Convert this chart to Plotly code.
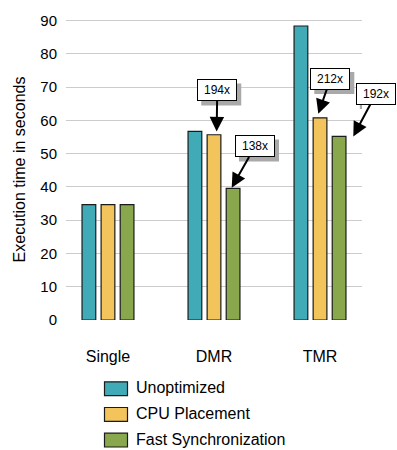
import plotly.graph_objects as go

# Benchmark configurations and series
configs = ["Single", "DMR", "TMR"]
series_names = ["Unoptimized", "CPU Placement", "Fast Synchronization"]
unoptimized = [34.7, 56.7, 88.4]
cpu_placement = [34.7, 55.7, 60.8]
fast_sync = [34.7, 39.6, 55.2]
series_colors = ["#40AAB7", "#F2C45B", "#89A74C"]

# Speedup callouts: label, arrow tip (category index, seconds), box offset (px)
speedup_labels = ["194x", "138x", "212x", "192x"]
tip_x = [1.025, 1.167, 1.984, 2.314]
tip_y = [56.7, 39.8, 62.0, 55.2]
box_dx = [0.6, 23.3, 12.0, 22.5]
box_dy = [-41.0, -41.2, -34.7, -42.5]

FONT = "Liberation Sans, Arial, Helvetica, sans-serif"
W, H = 397, 450
ML, MR, MT, MB = 66, 35, 16, 129.5

fig = go.Figure()
for name, vals, col in zip(series_names, [unoptimized, cpu_placement, fast_sync], series_colors):
    fig.add_trace(go.Bar(
        x=configs, y=vals, name=name,
        marker=dict(color=col, line=dict(color="#1b1b1b", width=1.2)),
        showlegend=False,
    ))

shapes = []
annotations = []

# Callout boxes with drop shadows and arrows
BW, BH, SH = 40, 22, 4
for lab, tx, ty, dx, dy in zip(speedup_labels, tip_x, tip_y, box_dx, box_dy):
    shapes.append(dict(
        type="rect", xref="x", yref="y", xsizemode="pixel", ysizemode="pixel",
        xanchor=tx, yanchor=ty,
        x0=dx - BW / 2 + SH, x1=dx + BW / 2 + SH,
        y0=-(dy - BH / 2 + SH), y1=-(dy + BH / 2 + SH),
        fillcolor="#a9a9a9", line=dict(width=0), layer="above",
    ))
    annotations.append(dict(
        x=tx, y=ty, xref="x", yref="y", ax=dx, ay=dy,
        text=lab, showarrow=True, arrowhead=2, arrowsize=1.45, arrowwidth=2,
        arrowcolor="#000000", bgcolor="#ffffff", bordercolor="#000000",
        borderwidth=1, borderpad=0, width=BW - 2, height=BH - 2,
        font=dict(family=FONT, size=12, color="#000000"),
    ))

# Legend drawn as swatches + labels
pw = W - ML - MR
ph = H - MT - MB

def px_x(p):
    return (p - ML) / pw

def px_y(p):
    return 1 - (p - MT) / ph

row_centers = [390, 416, 442]
for name, col, yc in zip(series_names, series_colors, row_centers):
    shapes.append(dict(
        type="rect", xref="paper", yref="paper",
        x0=px_x(104.5), x1=px_x(127.5), y0=px_y(yc - 7), y1=px_y(yc + 7),
        fillcolor=col, line=dict(color="#1b1b1b", width=1.2),
    ))
    annotations.append(dict(
        x=px_x(134), y=px_y(yc - 1), xref="paper", yref="paper",
        xanchor="left", yanchor="middle", showarrow=False, text=name,
        font=dict(family=FONT, size=16, color="#000000"),
    ))

fig.update_layout(
    width=W, height=H,
    margin=dict(l=ML, r=MR, t=MT, b=MB),
    paper_bgcolor="white", plot_bgcolor="white",
    barmode="group", bargap=0.46, bargroupgap=0.28,
    font=dict(family=FONT, color="#000000"),
    shapes=shapes, annotations=annotations,
    xaxis=dict(
        range=[-0.396, 2.396], showgrid=False, zeroline=False, showline=False,
        ticks="", tickfont=dict(size=16), ticklabelstandoff=25,
    ),
    yaxis=dict(
        range=[0, 90.5], tickvals=[0, 10, 20, 30, 40, 50, 60, 70, 80, 90],
        showgrid=True, gridcolor="#cccccc", gridwidth=1.3,
        zeroline=False, showline=False, ticks="", ticklabelstandoff=8,
        tickfont=dict(size=15),
        title=dict(text="Execution time in seconds", font=dict(size=16), standoff=10),
    ),
)

fig.write_html("out.html")
